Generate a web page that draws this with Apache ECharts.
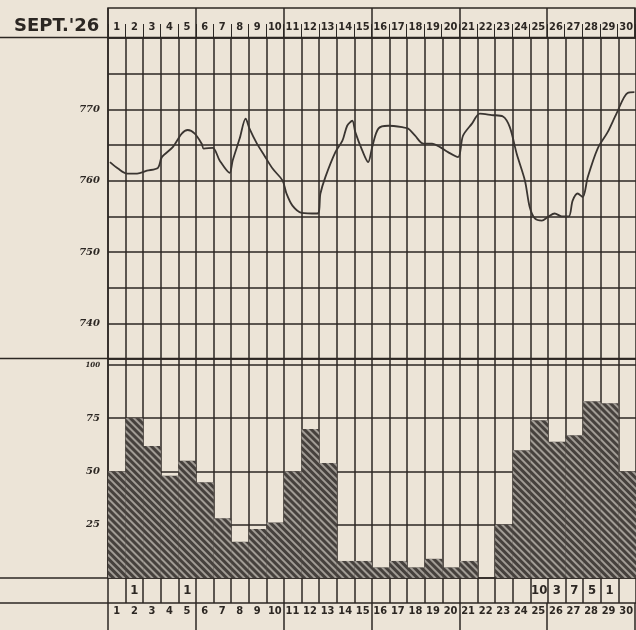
<!DOCTYPE html>
<html>
<head>
<meta charset="utf-8">
<title>Sept. '26</title>
<script src="https://cdn.jsdelivr.net/npm/echarts/dist/echarts.min.js"></script>
<style>
  html, body { margin: 0; padding: 0; background: #ece4d7; }
  #chart { width: 636px; height: 630px; }
</style>
</head>
<body>
<div id="chart"></div>
<script>
// day columns
const days = ['1','2','3','4','5','6','7','8','9','10','11','12','13','14','15',
  '16','17','18','19','20','21','22','23','24','25','26','27','28','29','30'];

// barometer trace (time in days from the 1st, pressure in mm)
const pressureTime = [0.11, 0.57, 1.08, 1.65, 2.21, 2.84, 3.06, 3.68, 4.19, 4.53, 4.93, 5.32, 5.44,
  5.95, 6.35, 6.91, 7.08, 7.48, 7.82, 8.04, 8.44, 8.89, 9.35, 9.92, 10.14, 10.48, 11.0, 11.9,
  12.07, 12.35, 12.92, 13.32, 13.59, 13.88, 14.05, 14.45, 14.78, 15.01, 15.36, 15.92, 16.72,
  17.05, 17.45, 17.91, 18.41, 18.87, 19.32, 19.89, 20.17, 20.68, 21.13, 21.81, 22.44, 22.83,
  23.23, 23.69, 23.96, 24.25, 24.65, 24.99, 25.38, 25.78, 26.18, 26.40, 26.68, 26.97, 27.26,
  27.82, 28.39, 28.89, 29.52, 29.91];
const pressureValue = [762.6, 761.7, 761.0, 761.0, 761.4, 761.8, 763.3, 764.7, 766.6, 767.1, 766.6, 765.2, 764.5,
  764.6, 762.8, 761.1, 762.8, 765.9, 768.7, 767.3, 765.3, 763.5, 761.7, 760.0, 758.2, 756.5, 755.5, 755.4,
  758.2, 760.5, 764.0, 765.6, 767.7, 768.4, 766.8, 764.2, 762.6, 764.7, 767.3, 767.7, 767.5,
  767.3, 766.3, 765.2, 765.2, 764.7, 764.0, 763.3, 766.3, 768.0, 769.4, 769.2, 769.0, 767.5,
  763.7, 760.0, 756.3, 754.7, 754.4, 754.9, 755.4, 755.0, 755.0, 757.2, 758.2, 757.7, 760.5,
  764.5, 766.8, 769.4, 772.3, 772.4];

// daily bars (0-100)
const cloudCover = [50, 75, 62, 48, 55, 45, 28, 17, 23, 26, 50, 70, 54, 8, 8,
  5, 8, 5, 9, 5, 8, 0, 25, 60, 74, 64, 67, 83, 82, 50];

// figures written under the bars
const rainCounts = ['', '1', '', '', '1', '', '', '', '', '', '', '', '', '', '',
  '', '', '', '', '', '', '', '', '', '10', '3', '7', '5', '1', ''];

// tick labels
const pressureLabels = [740, 750, 760, 770];
const coverLabels = [25, 50, 75, 100];

const ink = '#2c2723';
const colWidth = 530; // 30 columns, last one runs off the page
const lineStyle = { color: ink, width: 1.5 };
const numFont = 'DejaVu Sans Condensed, DejaVu Sans, sans-serif';
const everyFifth = (i) => i % 5 === 0;

let myChart = echarts.init(document.getElementById('chart'));

myChart.setOption({
  backgroundColor: '#ece4d7',
  animation: false,
  title: {
    text: "SEPT.'26",
    left: 9,
    top: 12,
    textStyle: { fontFamily: 'DejaVu Sans', fontWeight: 'bold', fontSize: 18, color: ink }
  },
  graphic: [
    // rules running across the whole sheet
    { type: 'line', shape: { x1: 0, y1: 37.5, x2: 636, y2: 37.5 }, style: { stroke: ink, lineWidth: 1.5 } },
    { type: 'line', shape: { x1: 0, y1: 358.5, x2: 636, y2: 358.5 }, style: { stroke: ink, lineWidth: 1.5 } },
    { type: 'line', shape: { x1: 0, y1: 578, x2: 636, y2: 578 }, style: { stroke: ink, lineWidth: 1.5 } },
    { type: 'line', shape: { x1: 0, y1: 603, x2: 636, y2: 603 }, style: { stroke: ink, lineWidth: 1.5 } }
  ],
  grid: [
    { left: 108, width: colWidth, top: 38, height: 321 },   // barometer
    { left: 108, width: colWidth, top: 359, height: 219 },  // bars
    { left: 108, width: colWidth, top: 578, height: 25 },   // figures row
    { left: 108, width: colWidth, top: 603, height: 27 },   // day row below
    { left: 108, width: colWidth, top: 8, height: 30, show: true, borderColor: ink, borderWidth: 1.5 } // day row above
  ],
  xAxis: [
    {
      type: 'value', gridIndex: 0, min: 0, max: 30, interval: 1,
      axisLine: { show: false }, axisTick: { show: false }, axisLabel: { show: false },
      splitLine: { show: true, lineStyle: lineStyle }
    },
    {
      type: 'category', gridIndex: 1, data: days,
      axisLine: { show: false }, axisTick: { show: false }, axisLabel: { show: false },
      splitLine: { show: true, interval: 0, lineStyle: lineStyle }
    },
    {
      type: 'category', gridIndex: 2, data: days, position: 'top',
      axisLine: { show: false }, axisTick: { show: false },
      axisLabel: {
        inside: true, interval: 0, margin: 6,
        formatter: (v, i) => rainCounts[i],
        fontFamily: numFont, fontWeight: 'bold', fontSize: 13, color: ink
      },
      splitLine: { show: true, interval: 0, lineStyle: lineStyle }
    },
    {
      type: 'category', gridIndex: 3, data: days, position: 'top',
      axisLine: { show: false },
      axisTick: { show: true, inside: true, interval: 0, length: 17, lineStyle: { color: ink, width: 1 } },
      axisLabel: { inside: true, interval: 0, margin: 3, fontFamily: numFont, fontWeight: 'bold', fontSize: 11, color: ink },
      splitLine: { show: true, interval: everyFifth, lineStyle: lineStyle }
    },
    {
      type: 'category', gridIndex: 4, data: days, position: 'bottom',
      axisLine: { show: false },
      axisTick: { show: true, inside: true, interval: 0, length: 14, lineStyle: { color: ink, width: 1 } },
      axisLabel: { inside: true, interval: 0, margin: 5, fontFamily: numFont, fontWeight: 'bold', fontSize: 11, color: ink },
      splitLine: { show: true, interval: everyFifth, lineStyle: lineStyle }
    }
  ],
  yAxis: [
    {
      type: 'value', gridIndex: 0, min: 735, max: 780, interval: 5,
      axisLine: { show: true, lineStyle: lineStyle }, axisTick: { show: false },
      axisLabel: {
        margin: 8,
        formatter: (v) => pressureLabels.includes(v) ? String(v) : '',
        fontFamily: 'DejaVu Serif', fontStyle: 'italic', fontWeight: 'bold', fontSize: 10, color: ink
      },
      splitLine: { show: true, lineStyle: lineStyle }
    },
    {
      type: 'value', gridIndex: 1, min: 0, max: 102.8, interval: 25,
      axisLine: { show: true, lineStyle: lineStyle }, axisTick: { show: false },
      axisLabel: {
        margin: 8,
        formatter: (v) => coverLabels.includes(v) ? (v === 100 ? '{s|' + v + '}' : String(v)) : '',
        fontFamily: 'DejaVu Serif', fontStyle: 'italic', fontWeight: 'bold', fontSize: 10, color: ink,
        rich: { s: { fontFamily: 'DejaVu Serif', fontWeight: 'bold', fontSize: 7, color: ink } }
      },
      splitLine: { show: true, lineStyle: lineStyle }
    },
    { type: 'value', gridIndex: 2, show: false },
    { type: 'value', gridIndex: 3, show: false },
    { type: 'value', gridIndex: 4, show: false }
  ],
  series: [
    {
      name: 'pressure',
      type: 'line',
      xAxisIndex: 0,
      yAxisIndex: 0,
      showSymbol: false,
      smooth: 0.3,
      lineStyle: { color: '#3a3531', width: 1.8 },
      data: pressureTime.map((t, i) => [t, pressureValue[i]]),
      z: 5
    },
    {
      name: 'cover',
      type: 'bar',
      xAxisIndex: 1,
      yAxisIndex: 1,
      barCategoryGap: '0%',
      itemStyle: {
        color: '#46413d',
        // diagonal hatching like the printed bars
        decal: {
          symbol: 'rect',
          symbolSize: 1,
          color: 'rgba(178,172,164,0.85)',
          dashArrayX: [1, 0],
          dashArrayY: [2, 3],
          rotation: Math.PI / 4
        }
      },
      data: cloudCover,
      z: 1
    }
  ]
});
</script>
</body>
</html>
